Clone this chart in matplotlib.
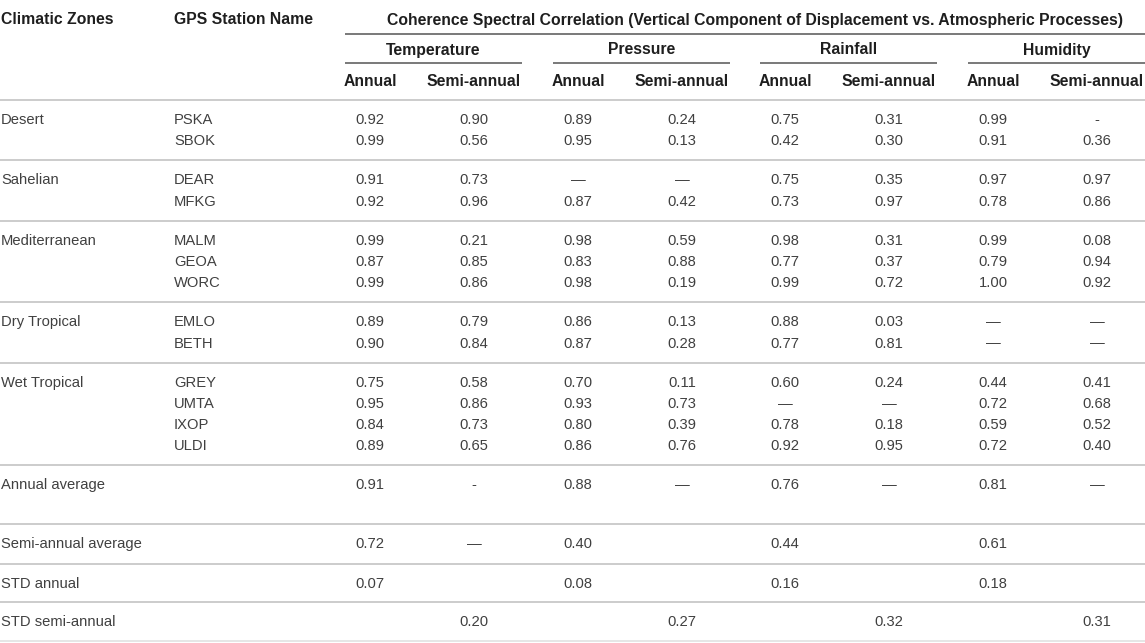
import matplotlib
matplotlib.use("Agg")
import matplotlib.pyplot as plt

# --- table content -------------------------------------------------------
zones = ["Desert", "Sahelian", "Mediterranean", "Dry Tropical", "Wet Tropical"]
stations = [
    ["PSKA", "SBOK"],
    ["DEAR", "MFKG"],
    ["MALM", "GEOA", "WORC"],
    ["EMLO", "BETH"],
    ["GREY", "UMTA", "IXOP", "ULDI"],
]
processes = ["Temperature", "Pressure", "Rainfall", "Humidity"]
periods = ["Annual", "Semi-annual"]

# 8 values per station: (annual, semi-annual) for each process
values = {
    "PSKA": ["0.92", "0.90", "0.89", "0.24", "0.75", "0.31", "0.99", "-"],
    "SBOK": ["0.99", "0.56", "0.95", "0.13", "0.42", "0.30", "0.91", "0.36"],
    "DEAR": ["0.91", "0.73", "—", "—", "0.75", "0.35", "0.97", "0.97"],
    "MFKG": ["0.92", "0.96", "0.87", "0.42", "0.73", "0.97", "0.78", "0.86"],
    "MALM": ["0.99", "0.21", "0.98", "0.59", "0.98", "0.31", "0.99", "0.08"],
    "GEOA": ["0.87", "0.85", "0.83", "0.88", "0.77", "0.37", "0.79", "0.94"],
    "WORC": ["0.99", "0.86", "0.98", "0.19", "0.99", "0.72", "1.00", "0.92"],
    "EMLO": ["0.89", "0.79", "0.86", "0.13", "0.88", "0.03", "—", "—"],
    "BETH": ["0.90", "0.84", "0.87", "0.28", "0.77", "0.81", "—", "—"],
    "GREY": ["0.75", "0.58", "0.70", "0.11", "0.60", "0.24", "0.44", "0.41"],
    "UMTA": ["0.95", "0.86", "0.93", "0.73", "—", "—", "0.72", "0.68"],
    "IXOP": ["0.84", "0.73", "0.80", "0.39", "0.78", "0.18", "0.59", "0.52"],
    "ULDI": ["0.89", "0.65", "0.86", "0.76", "0.92", "0.95", "0.72", "0.40"],
}

summary_labels = ["Annual average", "Semi-annual average", "STD annual", "STD semi-annual"]
summary_values = [
    ["0.91", "-", "0.88", "—", "0.76", "—", "0.81", "—"],
    ["0.72", "—", "0.40", "", "0.44", "", "0.61", ""],
    ["0.07", "", "0.08", "", "0.16", "", "0.18", ""],
    ["", "0.20", "", "0.27", "", "0.32", "", "0.31"],
]

# --- layout (pixels) -----------------------------------------------------
W, H = 1145, 643
group_x0 = [345, 553, 760, 968]   # left edge of each process group
group_w = 177
step = 21.3

plt.rcParams["font.family"] = ["Liberation Sans", "DejaVu Sans"]
fig = plt.figure(figsize=(W / 100, H / 100), dpi=100)
ax = fig.add_axes([0, 0, 1, 1])
ax.set_xlim(0, W)
ax.set_ylim(H, 0)
ax.axis("off")

hdr = dict(fontsize=11.3, fontweight="bold", color="#1e1e1e", va="center")
body = dict(fontsize=10.6, color="#404040", va="center")
light = "#cccccc"
dark = "#555555"

# header
ax.text(1, 20, "Climatic Zones", ha="left", **hdr)
ax.text(174, 20, "GPS Station Name", ha="left", **hdr)
ax.text(755, 20,
        "Coherence Spectral Correlation (Vertical Component of Displacement vs. Atmospheric Processes)",
        ha="center", **hdr)
ax.hlines(34, group_x0[0], W, color=dark, lw=1.1)

col_x = []
for x0, proc in zip(group_x0, processes):
    ax.text(x0 + group_w / 2, 50, proc, ha="center", **hdr)
    ax.hlines(63, x0, x0 + group_w, color=dark, lw=1.1)
    cx = [x0 + 25, x0 + 129]
    col_x += cx
    for c, p in zip(cx, periods):
        ax.text(c, 82, p, ha="center", **hdr)

ax.hlines(100, 0, W, color=light, lw=1.4)

# station groups
y = 100
for zone, names in zip(zones, stations):
    y += 20
    ax.text(1, y, zone, ha="left", **body)
    for i, name in enumerate(names):
        yy = y + i * step
        ax.text(174, yy, name, ha="left", **body)
        for c, v in zip(col_x, values[name]):
            ax.text(c, yy, v, ha="center", **body)
    y = y + (len(names) - 1) * step + 19
    ax.hlines(y, 0, W, color=light, lw=1.4)

# summary rows
row_h = [59, 40, 38, 39]
for lab, vals, h in zip(summary_labels, summary_values, row_h):
    yy = y + 20
    ax.text(1, yy, lab, ha="left", **body)
    for c, v in zip(col_x, vals):
        if v:
            ax.text(c, yy, v, ha="center", **body)
    y += h
    ax.hlines(min(y, H - 1), 0, W, color="#e6e6e6" if y >= H - 2 else light, lw=1.4)

fig.savefig("out.png", dpi=100, facecolor="white")
